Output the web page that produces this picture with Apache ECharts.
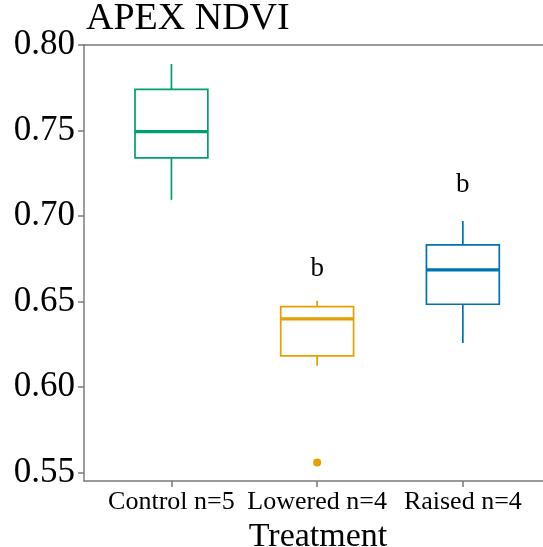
<!DOCTYPE html>
<html>
<head>
<meta charset="utf-8">
<script src="https://cdn.jsdelivr.net/npm/echarts@6/dist/echarts.min.js"></script>
<style>html,body{margin:0;padding:0;background:#fff}#c{width:543px;height:547px}</style>
</head>
<body>
<div id="c"></div>
<script>
var categories = ['Control n=5', 'Lowered n=4', 'Raised n=4'];
var whiskerLow = [0.7095, 0.6125, 0.6258];
var q1 = [0.7340, 0.6183, 0.6485];
var median = [0.7494, 0.6400, 0.6686];
var q3 = [0.7741, 0.6471, 0.6832];
var whiskerHigh = [0.7889, 0.6506, 0.6972];
var outliers = [[1, 0.556]];
var letters = ['', 'b', 'b'];
var letterY = [null, 0.669, 0.7185];
var yTicks = [0.55, 0.60, 0.65, 0.70, 0.75, 0.80];
var colors = ['#009E73', '#E69F00', '#0072B2'];

var FONT = '"Liberation Serif", "Times New Roman", serif';
var chart = echarts.init(document.getElementById('c'), null, {renderer: 'canvas'});

var boxData = categories.map(function (c, i) {
  return [i, whiskerLow[i], q1[i], median[i], q3[i], whiskerHigh[i]];
});
var letterData = [];
letters.forEach(function (l, i) { if (l) letterData.push({value: [i, letterY[i]], label: l}); });

var boxWidth = 0.5;
function renderBox(params, api) {
  var x = api.value(0);
  var col = colors[x];
  var pLow = api.coord([x, api.value(1)]);
  var pQ1 = api.coord([x, api.value(2)]);
  var pMed = api.coord([x, api.value(3)]);
  var pQ3 = api.coord([x, api.value(4)]);
  var pHigh = api.coord([x, api.value(5)]);
  var left = api.coord([x - boxWidth / 2, api.value(3)])[0];
  var right = api.coord([x + boxWidth / 2, api.value(3)])[0];
  var ls = {stroke: col, lineWidth: 1.7, fill: null};
  return {
    type: 'group',
    children: [
      {type: 'line', shape: {x1: pHigh[0], y1: pHigh[1], x2: pQ3[0], y2: pQ3[1]}, style: ls},
      {type: 'line', shape: {x1: pQ1[0], y1: pQ1[1], x2: pLow[0], y2: pLow[1]}, style: ls},
      {type: 'rect', shape: {x: left, y: pQ3[1], width: right - left, height: pQ1[1] - pQ3[1]}, style: {stroke: col, lineWidth: 1.7, fill: '#fff'}},
      {type: 'line', shape: {x1: left, y1: pMed[1], x2: right, y2: pMed[1]}, style: {stroke: col, lineWidth: 3.2}}
    ]
  };
}

var axisLineStyle = {color: '#7a7a7a', width: 1.5};

chart.setOption({
  animation: false,
  title: {
    text: 'APEX NDVI', left: 86, top: 0, padding: 0,
    textStyle: {fontFamily: FONT, fontSize: 38, fontWeight: 'normal', color: '#000'}
  },
  grid: {left: 84, top: 45, right: 0, bottom: 66, containLabel: false, outerBoundsMode: 'none'},
  xAxis: [{
    type: 'value', min: -0.6, max: 2.55, position: 'bottom',
    splitLine: {show: false},
    axisLine: {show: true, onZero: false, lineStyle: axisLineStyle},
    axisTick: {show: true, length: 6, lineStyle: axisLineStyle, customValues: [0, 1, 2]},
    axisLabel: {
      customValues: [0, 1, 2], margin: 8,
      formatter: function (v) { return categories[Math.round(v)]; },
      fontFamily: FONT, fontSize: 26, color: '#000'
    },
    name: 'Treatment', nameLocation: 'middle', nameGap: 34,
    nameTextStyle: {fontFamily: FONT, fontSize: 34, color: '#000', verticalAlign: 'top', padding: [0, 0, 0, 9]}
  }, {
    type: 'value', min: -0.6, max: 2.55, position: 'top',
    splitLine: {show: false},
    axisLine: {show: true, onZero: false, lineStyle: axisLineStyle},
    axisTick: {show: false}, axisLabel: {show: false}
  }],
  yAxis: {
    type: 'value', min: 0.5452, max: 0.80, position: 'left',
    splitLine: {show: false},
    axisLine: {show: true, onZero: false, lineStyle: axisLineStyle},
    axisTick: {show: true, length: 6, lineStyle: axisLineStyle, customValues: yTicks},
    axisLabel: {
      customValues: yTicks, margin: 9,
      formatter: function (v) { return v.toFixed(2); },
      fontFamily: FONT, fontSize: 35, color: '#000'
    }
  },
  series: [{
    type: 'custom',
    renderItem: renderBox,
    data: boxData,
    encode: {x: 0, y: [1, 2, 3, 4, 5]},
    z: 2
  }, {
    type: 'scatter',
    data: outliers,
    symbol: 'circle', symbolSize: 8,
    itemStyle: {color: colors[1], opacity: 1},
    z: 3
  }, {
    type: 'scatter',
    data: letterData,
    symbolSize: 0,
    itemStyle: {opacity: 1},
    label: {
      show: true, position: 'inside',
      formatter: function (p) { return p.data.label; },
      fontFamily: FONT, fontSize: 27, color: '#000'
    },
    z: 3
  }]
});
</script>
</body>
</html>
